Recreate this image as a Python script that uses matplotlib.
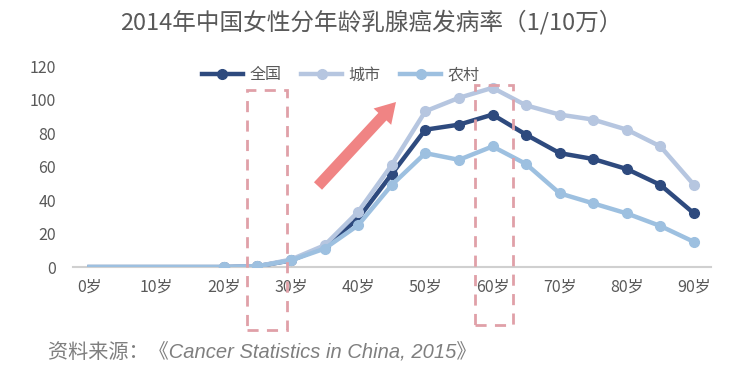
import numpy as np
import matplotlib.pyplot as plt
from matplotlib.patches import Rectangle, FancyArrow

plt.rcParams['font.family'] = ['Noto Sans CJK SC', 'DejaVu Sans']

# age groups (years) and incidence per 100k
ages = [0, 5, 10, 15, 20, 25, 30, 35, 40, 45, 50, 55, 60, 65, 70, 75, 80, 85, 90]
national = [0, 0, 0, 0, 0, 0.5, 4, 12, 29, 55.5, 82, 85, 91, 79, 68, 64.5, 58.5, 49, 32]
urban = [0, 0, 0, 0, 0, 0.5, 4.5, 13, 33, 61, 93, 101, 107, 96.5, 91, 88, 82, 72, 49]
rural = [0, 0, 0, 0, 0, 0.5, 4, 11, 25, 49, 68, 64, 72, 61.5, 44, 38, 32, 24.5, 15]
tick_ages = [0, 10, 20, 30, 40, 50, 60, 70, 80, 90]

gray = '#595959'
c_nat = '#2e4a7e'
c_urb = '#b6c6e0'
c_rur = '#9dc0e0'

fig = plt.figure(figsize=(7.42, 3.73), dpi=100)
ax = fig.add_axes([0.098, 0.284, 0.86, 0.539])

mk = list(range(4, len(ages)))
ax.plot(ages, national, color=c_nat, lw=3.2, marker='o', ms=7, markevery=mk, label='全国', zorder=3)
ax.plot(ages, urban, color=c_urb, lw=3.2, marker='o', ms=7, markevery=mk, label='城市', zorder=3)
ax.plot(ages, rural, color=c_rur, lw=3.2, marker='o', ms=7, markevery=mk, label='农村', zorder=3)

ax.set_xlim(-2.5, 92.5)
ax.set_ylim(0, 120)
ax.set_yticks(range(0, 121, 20))
ax.set_xticks(tick_ages)
ax.set_xticklabels([f'{a}岁' for a in tick_ages])
ax.tick_params(length=0, colors=gray, labelsize=11.5)
ax.tick_params(axis='x', pad=8)
ax.tick_params(axis='y', pad=12)
for s in ['top', 'right', 'left']:
    ax.spines[s].set_visible(False)
ax.spines['bottom'].set_color('#d0d0d0')
ax.spines['bottom'].set_linewidth(1.5)

leg = ax.legend(loc='upper center', bbox_to_anchor=(0.42, 1.07), ncol=3, frameon=False,
                fontsize=11.5, handlelength=2.6, columnspacing=1.2, handletextpad=0.4)
for t in leg.get_texts():
    t.set_color(gray)

# dashed highlight boxes (figure pixel coords)
for x0, x1, y0, y1 in [(247, 287, 90, 330), (475, 513, 85, 325)]:
    fig.patches.append(Rectangle((x0 / 742, 1 - y1 / 373), (x1 - x0) / 742, (y1 - y0) / 373,
                                 transform=fig.transFigure, fill=False, ls=(0, (4, 3)),
                                 lw=2, ec='#e0a0a8', zorder=5))

# trend arrow, drawn in pixel space so the shaft keeps its width
arrow = FancyArrow(318, 373 - 186, 78, 84, width=11, head_width=24, head_length=20,
                   transform=None, color='#f08484', ec='none', length_includes_head=True)
fig.patches.append(arrow)

fig.text(0.5, 1 - 22 / 373, '2014年中国女性分年龄乳腺癌发病率（1/10万）', ha='center', va='center',
         fontsize=17, color=gray)
fig.text(48 / 742, 1 - 352 / 373, '资料来源：《Cancer Statistics in China, 2015》', ha='left', va='center',
         fontsize=14.5, color='#7f7f7f', style='italic', family=['Liberation Sans', 'Noto Sans CJK SC'])

fig.savefig('out.png', dpi=100)
